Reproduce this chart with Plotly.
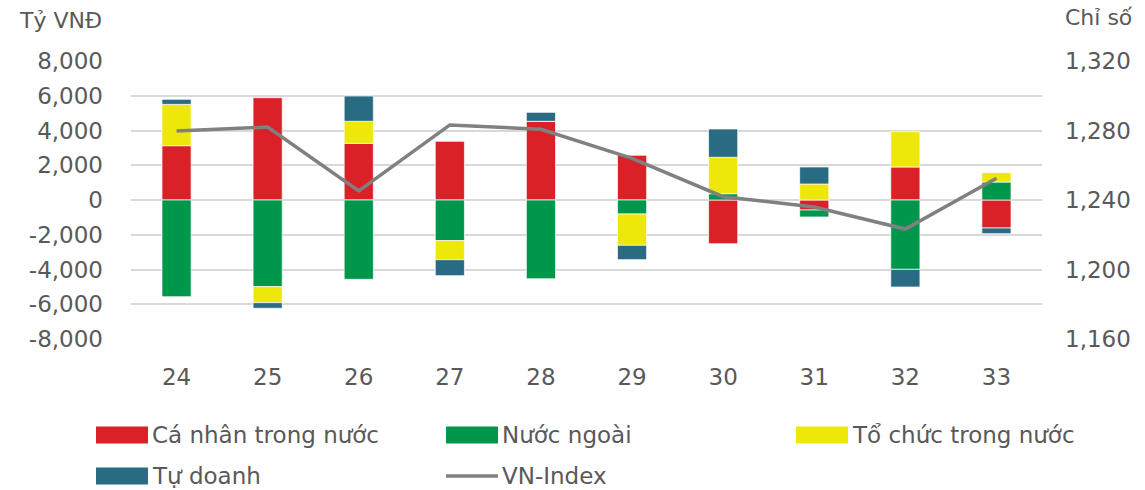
import plotly.graph_objects as go

# ---- data ----
sessions = ["24", "25", "26", "27", "28", "29", "30", "31", "32", "33"]
ca_nhan = [3125, 5890, 3260, 3378, 4530, 2572, -2515, -576, 1900, -1612]
nuoc_ngoai = [-5565, -4990, -4565, -2340, -4530, -806, 363, -400, -3990, 1036]
to_chuc = [2380, -920, 1270, -1095, 0, -1800, 2094, 921, 2031, 537]
tu_doanh = [290, -320, 1455, -920, 515, -827, 1630, 979, -1017, -326]
vn_index = [1279.7, 1282.0, 1245.2, 1283.2, 1280.7, 1264.0, 1241.9, 1236.0, 1223.3, 1252.5]

left_ticks = [-8000, -6000, -4000, -2000, 0, 2000, 4000, 6000, 8000]
left_labels = ["-8,000", "-6,000", "-4,000", "-2,000", "0", "2,000", "4,000", "6,000", "8,000"]
right_ticks = [1160, 1200, 1240, 1280, 1320]
right_labels = ["1,160", "1,200", "1,240", "1,280", "1,320"]

series = [
    ("Cá nhân trong nước", ca_nhan, "#DA2128"),
    ("Nước ngoài", nuoc_ngoai, "#00964B"),
    ("Tổ chức trong nước", to_chuc, "#EEE80A"),
    ("Tự doanh", tu_doanh, "#286B82"),
]
line_name = "VN-Index"
line_color = "#808080"

FONT = "DejaVu Sans"
TXT = "#595959"
FS = 23
W, H = 1145, 490
L, R, T, B = 131, 1042, 61, 339

fig = go.Figure()
for name, vals, col in series:
    fig.add_trace(go.Bar(
        x=sessions, y=vals, name=name, marker_color=col,
        marker_line=dict(color="rgba(255,255,255,0.7)", width=1),
        showlegend=False,
    ))
fig.add_trace(go.Scatter(
    x=sessions, y=vn_index, name=line_name, yaxis="y2", mode="lines",
    line=dict(color=line_color, width=3.5), showlegend=False,
))

def px(x):
    return (x - L) / (R - L)

def py(y):
    return (B - y) / (B - T)

shapes = []
annotations = []
legend_items = [
    (series[0][0], series[0][2], 96, 435, "box"),
    (series[1][0], series[1][2], 446, 435, "box"),
    (series[2][0], series[2][2], 796, 435, "box"),
    (series[3][0], series[3][2], 96, 476, "box"),
    (line_name, line_color, 446, 476, "line"),
]
for name, col, x0, yc, kind in legend_items:
    if kind == "box":
        shapes.append(dict(type="rect", xref="paper", yref="paper",
                           x0=px(x0), x1=px(x0 + 52), y0=py(yc + 8.5), y1=py(yc - 8.5),
                           fillcolor=col, line=dict(width=0)))
    else:
        shapes.append(dict(type="line", xref="paper", yref="paper",
                           x0=px(x0), x1=px(x0 + 52), y0=py(yc), y1=py(yc),
                           line=dict(color=col, width=3.5)))
    annotations.append(dict(text=name, xref="paper", yref="paper", x=px(x0 + 54), y=py(yc),
                            xanchor="left", yanchor="middle", showarrow=False,
                            font=dict(family=FONT, size=FS, color=TXT)))

annotations.append(dict(text="Tỷ VNĐ", xref="paper", yref="paper", x=px(104), y=py(20),
                        xanchor="right", yanchor="middle", showarrow=False,
                        font=dict(family=FONT, size=FS - 1, color=TXT)))
annotations.append(dict(text="Chỉ số", xref="paper", yref="paper", x=px(1063), y=py(17),
                        xanchor="left", yanchor="middle", showarrow=False,
                        font=dict(family=FONT, size=FS - 1, color=TXT)))

fig.update_layout(
    width=W, height=H,
    margin=dict(l=L, r=W - R, t=T, b=H - B, pad=0),
    paper_bgcolor="white", plot_bgcolor="white",
    barmode="relative", bargap=0.68,
    font=dict(family=FONT, size=FS, color=TXT),
    xaxis=dict(showgrid=False, showline=False, ticks="", ticklabelstandoff=22,
               tickfont=dict(family=FONT, size=FS, color=TXT)),
    yaxis=dict(range=[-8000, 8000], tickvals=left_ticks, ticktext=left_labels,
               showgrid=True, gridcolor="#D9D9D9", gridwidth=1.5,
               zeroline=True, zerolinecolor="#D9D9D9", zerolinewidth=1.5,
               showline=False, ticks="", ticklabelstandoff=27,
               tickfont=dict(family=FONT, size=FS, color=TXT)),
    yaxis2=dict(range=[1160, 1320], tickvals=right_ticks, ticktext=right_labels,
                overlaying="y", side="right", showgrid=False, zeroline=False,
                showline=False, ticks="", ticklabelstandoff=22,
                tickfont=dict(family=FONT, size=FS, color=TXT)),
    shapes=shapes, annotations=annotations,
)

fig.write_html("out.html", config={"displayModeBar": False},
               post_script="document.body.style.margin='0px';document.body.style.overflow='hidden';")
